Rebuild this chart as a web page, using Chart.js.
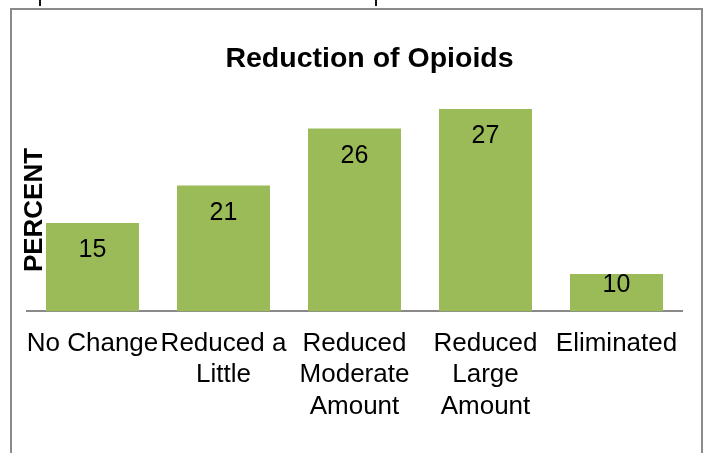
<!DOCTYPE html>
<html><head><meta charset="utf-8">
<script src="https://cdn.jsdelivr.net/npm/chart.js@4/dist/chart.umd.min.js"></script>
<style>
html,body{margin:0;padding:0;background:#fff;}
#wrap{position:relative;width:707px;height:453px;overflow:hidden;background:#fff;}
#frame{position:absolute;left:10px;top:8px;width:689px;height:480px;border:2px solid #8a8a8a;}
.mark{position:absolute;top:0;width:2px;height:6px;background:#111;}
canvas{position:absolute;left:0;top:0;}
</style></head><body>
<div id="wrap">
<div class="mark" style="left:39px"></div>
<div class="mark" style="left:375px"></div>
<div id="frame"></div>
<canvas id="c" width="707" height="453"></canvas>
</div>
<script>
// Categories (x-axis tick labels, wrapped as in the reference)
const categories = ['No Change', ['Reduced a', 'Little'], ['Reduced', 'Moderate', 'Amount'], ['Reduced', 'Large', 'Amount'], 'Eliminated'];
// Values printed on the bars
const valueLabels = ['15', '21', '26', '27', '10'];
// Bar heights as drawn in the picture (the original bars are not proportional to their printed values)
const barHeights = [11.8, 16.8, 24.4, 27.0, 5.0];
const chartTitle = 'Reduction of Opioids';
const yTitle = 'PERCENT';

const FONT = "'Liberation Sans', Arial, sans-serif";

const textPlugin = {
  id: 'texts',
  afterDatasetsDraw(chart) {
    const ctx = chart.ctx;
    ctx.save();
    // value labels inside bars
    const meta = chart.getDatasetMeta(0);
    ctx.fillStyle = '#000';
    ctx.font = '25px ' + FONT;
    ctx.textAlign = 'center';
    ctx.textBaseline = 'middle';
    meta.data.forEach((bar, i) => {
      const h = bar.base - bar.y;
      const off = Math.min(27.5, h / 2 - 8);
      ctx.fillText(valueLabels[i], bar.x, bar.y + off);
    });
    // title
    ctx.font = 'bold 28.5px ' + FONT;
    ctx.fillText(chartTitle, 369.5, 59);
    // y-axis title
    ctx.translate(34, 210);
    ctx.rotate(-Math.PI / 2);
    ctx.font = 'bold 26px ' + FONT;
    ctx.fillText(yTitle, 0, 1);
    ctx.restore();
  }
};

new Chart(document.getElementById('c'), {
  type: 'bar',
  data: {
    labels: categories,
    datasets: [{
      data: barHeights,
      backgroundColor: '#9BBB59',
      borderWidth: 0,
      categoryPercentage: 1,
      barPercentage: 0.71
    }]
  },
  options: {
    responsive: false,
    animation: false,
    layout: { padding: { top: 109, left: 27, right: 25, bottom: 14 } },
    plugins: { legend: { display: false }, title: { display: false }, tooltip: { enabled: false } },
    scales: {
      x: {
        grid: { display: false, drawTicks: false },
        border: { display: true, color: '#898989', width: 2 },
        ticks: {
          color: '#000', font: { family: FONT, size: 26 }, padding: 17,
          maxRotation: 0, minRotation: 0, autoSkip: false
        }
      },
      y: { display: false, min: 0, max: 27 }
    }
  },
  plugins: [textPlugin]
});
</script>
</body></html>
